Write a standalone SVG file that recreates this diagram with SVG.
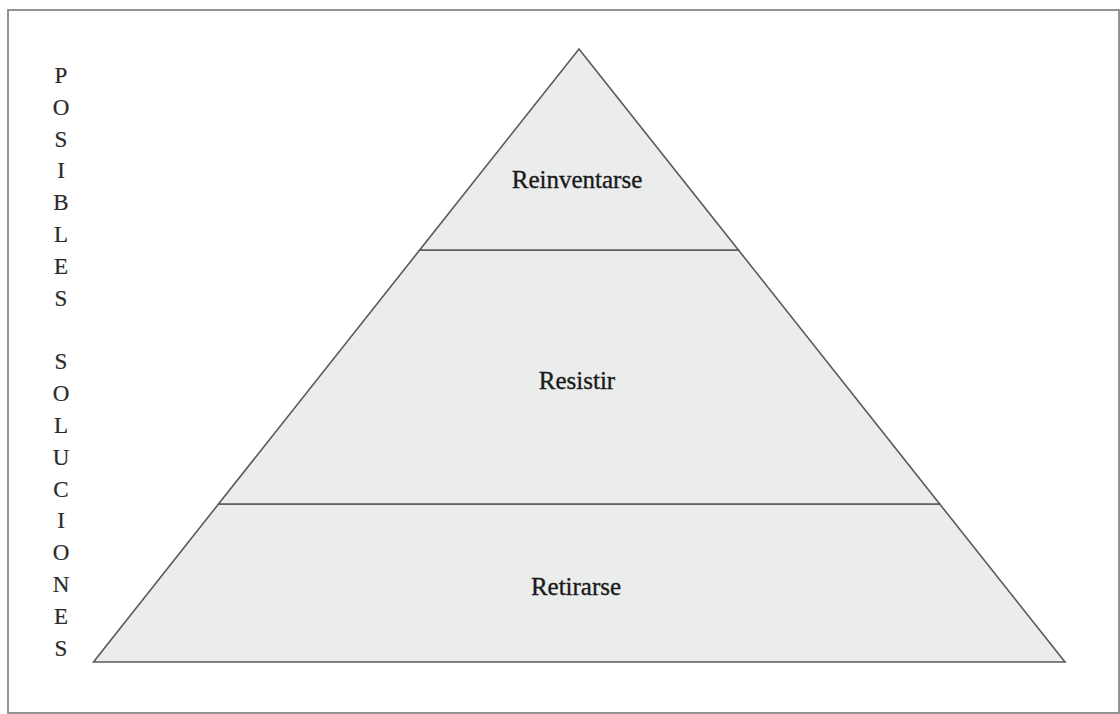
<svg xmlns="http://www.w3.org/2000/svg" width="1120" height="714" viewBox="0 0 1120 714">
  <style>
    .tier { fill: #ebecec; stroke: #5a5a5a; stroke-width: 1.6; stroke-linejoin: miter; }
    .label { font-family: "Liberation Serif", "Times New Roman", serif; font-size: 25px; fill: #1a1a1a; stroke: #1a1a1a; stroke-width: 0.35; text-anchor: middle; }
    .side { font-family: "Liberation Serif", "Times New Roman", serif; font-size: 23px; fill: #2a2a2a; stroke: #2a2a2a; stroke-width: 0.2; text-anchor: middle; }
  </style>
  <rect x="0" y="0" width="1120" height="714" fill="#ffffff"/>
  <rect x="8" y="10" width="1111" height="703" fill="#ffffff" stroke="#7a7a7a" stroke-width="1.6"/>

  <g id="side-label">
    <text class="side" x="61" y="83">P</text>
    <text class="side" x="61" y="115">O</text>
    <text class="side" x="61" y="147">S</text>
    <text class="side" x="61" y="178">I</text>
    <text class="side" x="61" y="210">B</text>
    <text class="side" x="61" y="242">L</text>
    <text class="side" x="61" y="274">E</text>
    <text class="side" x="61" y="306">S</text>
    <text class="side" x="61" y="369">S</text>
    <text class="side" x="61" y="401">O</text>
    <text class="side" x="61" y="433">L</text>
    <text class="side" x="61" y="465">U</text>
    <text class="side" x="61" y="497">C</text>
    <text class="side" x="61" y="528">I</text>
    <text class="side" x="61" y="560">O</text>
    <text class="side" x="61" y="592">N</text>
    <text class="side" x="61" y="624">E</text>
    <text class="side" x="61" y="656">S</text>
  </g>

  <g id="tier-retirarse">
    <polygon class="tier" points="218.5,504 939.7,504 1065,662 93.5,662"/>
    <text class="label" x="576" y="595">Retirarse</text>
  </g>
  <g id="tier-resistir">
    <polygon class="tier" points="419.7,250 738.4,250 939.7,504 218.5,504"/>
    <text class="label" x="577" y="389">Resistir</text>
  </g>
  <g id="tier-reinventarse">
    <polygon class="tier" points="579,49 738.4,250 419.7,250"/>
    <text class="label" x="577" y="188">Reinventarse</text>
  </g>
  <g id="connectors"></g>
</svg>
